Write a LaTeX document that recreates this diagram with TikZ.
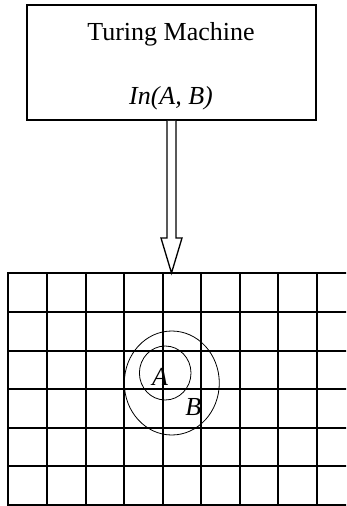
\documentclass[tikz,border=0pt]{standalone}
\usepackage{fontspec}
\setmainfont{Liberation Serif}
\usetikzlibrary{calc, math}

\tikzset{
  machinebox/.style={draw, line width=1.5, minimum width=289, minimum height=115, inner sep=0},
  bigtext/.style={font=\fontsize{26}{30}\selectfont, inner sep=0, anchor=base},
  cellline/.style={line width=1.8},
  region/.style={line width=0.8},
}

\begin{document}
\begin{tikzpicture}[x=1pt, y=-1pt]
\tikzmath{
\xl=8;
\yt=273;
\yb=505;
}

\useasboundingbox (0,0) rectangle (346,506);

% machine
\node[machinebox] (tm) at (171.5,62.5) {};
\node[bigtext] (name) at (171,40) {Turing Machine};
\node[bigtext] (rel) at (171,104) {\textit{In(A, B)}};

% tape (grid)
\coordinate (tape) at (171.5,\yt);
\begin{scope}
\clip (0,0) rectangle (346,506);
\foreach \x in {8,47,86,124,163,201,240,278,317}
  \draw[cellline] (\x,\yt) -- (\x,\yb+0.9);
\foreach \y in {273,312,351,389,428,466,505}
  \draw[cellline] (\xl-0.9,\y) -- (350,\y);
\end{scope}

% hollow arrow
\draw[line width=1.3, fill=white] ($(tm.south)+(-4.5,0)$) -- ($(tape)+(-4.5,-35)$) -- ($(tape)+(-10.5,-35)$) -- (tape)
  -- ($(tape)+(10.5,-35)$) -- ($(tape)+(4.5,-35)$) -- ($(tm.south)+(4.5,0)$);

% regions
\draw[region] (171.8,383) ellipse (47.5 and 52);
\draw[region] (165.2,373) ellipse (25.8 and 27);
\node[bigtext, anchor=center] (A) at (160,376.7) {\textit{A}};
\node[bigtext, anchor=center] (B) at (193.3,406.7) {\textit{B}};

\end{tikzpicture}
\end{document}
